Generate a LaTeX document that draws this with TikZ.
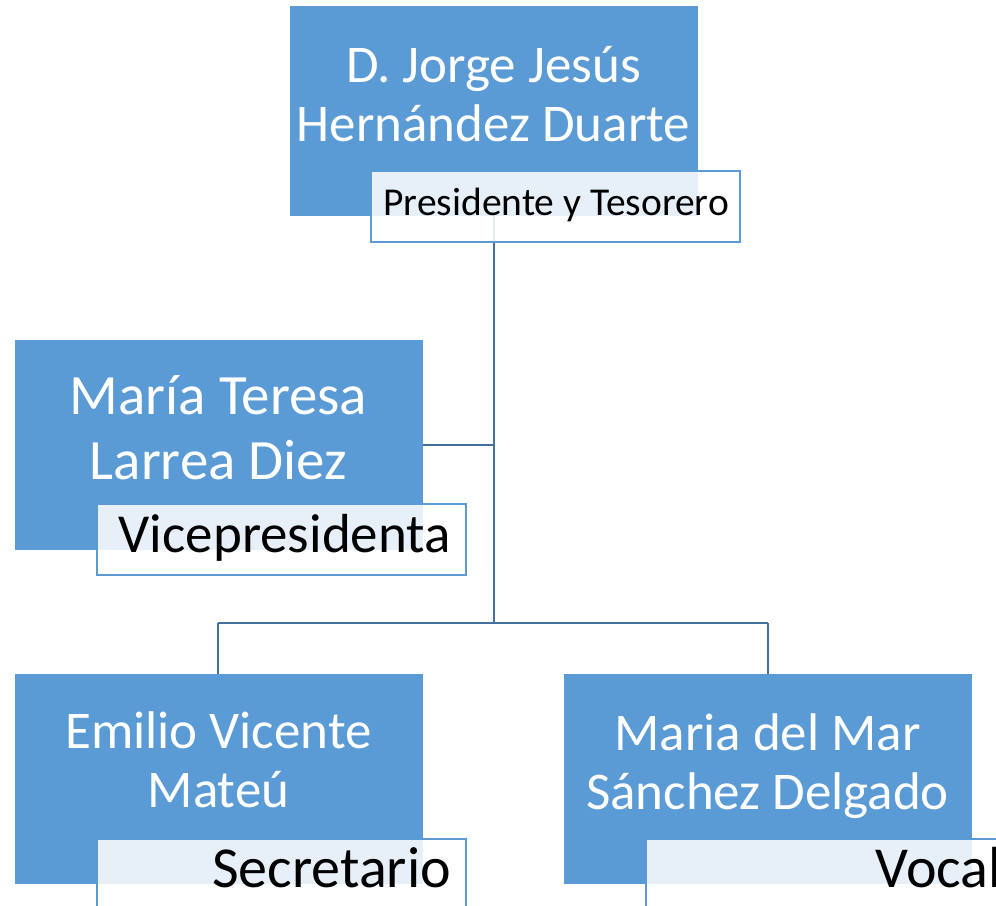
\documentclass[tikz,border=0pt]{standalone}
\usepackage{fontspec}
\setmainfont{Carlito}
\definecolor{boxblue}{HTML}{5B9BD5}
\definecolor{linkblue}{HTML}{41719C}
\begin{document}
\begin{tikzpicture}[x=1pt,y=-1pt,
  namebox/.style={draw=boxblue, line width=1pt, fill=boxblue, minimum width=407pt, minimum height=209pt, inner sep=0pt, anchor=north west},
  rolebox/.style={draw=boxblue, line width=2pt, fill=white, fill opacity=0.86, minimum width=369pt, minimum height=71pt, inner sep=0pt, anchor=north west},
  nametext/.style={text=white, font=\fontsize{53}{59}\selectfont\frenchspacing, text width=407pt, align=flush center, inner sep=0pt, anchor=base},
  roletext/.style={text=black, inner sep=0pt, anchor=base east},
  link/.style={draw=linkblue, line width=2pt}]
\clip (0,0) rectangle (996,905);
% name boxes
\node[namebox] (b1) at (290,6) {};
\node[namebox] (b2) at (15,340) {};
\node[namebox] (b3) at (15,674) {};
\node[namebox] (b4) at (564,674) {};
% connectors
\coordinate (j1) at (494,445);
\coordinate (j2) at (494,623);
\coordinate (j3) at (218,623);
\coordinate (j4) at (768,623);
\draw[link] (b1.south -| j1) -- (j1) -- (j2);
\draw[link] (b2.east |- j1) -- (j1);
\draw[link] (j3) -- (j4);
\draw[link] (j3) -- (b3.north -| j3);
\draw[link] (j4) -- (b4.north -| j4);
% role boxes
\node[rolebox] (r1) at (370,170) {};
\node[rolebox] (r2) at (96,503) {};
\node[rolebox] (r3) at (96,838) {};
\node[rolebox] (r4) at (645,838) {};
% names
\node[nametext] (n1) at (493.5,82) {D. Jorge Jesús\\Hernández Duarte};
\node[nametext, font=\fontsize{57}{65}\selectfont] (n2) at (218.5,414) {María Teresa\\Larrea Diez};
\node[nametext] (n3) at (218.5,748) {Emilio Vicente\\Mateú};
\node[nametext] (n4) at (767.5,750) {Maria del Mar\\Sánchez Delgado};
% roles
\node[roletext, font=\fontsize{39.5}{44}\selectfont] (t1) at (729,215) {Presidente y Tesorero};
\node[roletext, font=\fontsize{55}{60}\selectfont] (t2) at (451,552) {Vicepresidenta};
\node[roletext, font=\fontsize{58}{64}\selectfont] (t3) at (451,887) {Secretario};
\node[roletext, font=\fontsize{58}{64}\selectfont] (t4) at (1002,887) {Vocal};
\end{tikzpicture}
\end{document}
